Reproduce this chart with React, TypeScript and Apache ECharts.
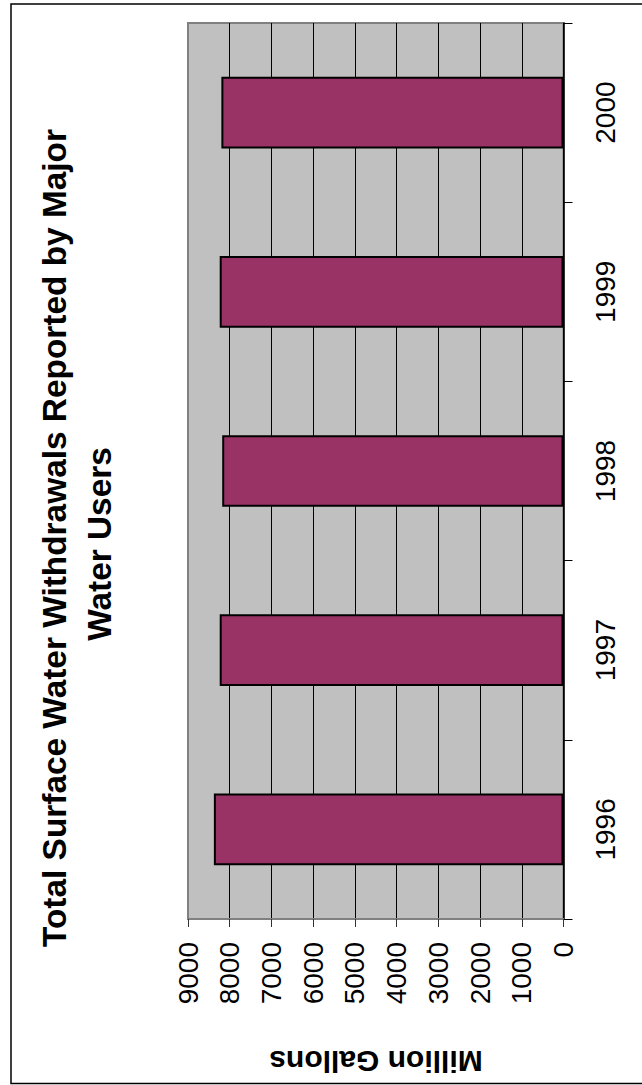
import React, { useEffect, useRef } from "react";
import * as echarts from "echarts";

const years = ["1996", "1997", "1998", "1999", "2000"];
const withdrawals = [8380, 8240, 8180, 8240, 8200];
const titleLine1 = "Total Surface Water Withdrawals Reported by Major";
const titleLine2 = "Water Users";
const valueAxisName = "Million Gallons";
const valueMin = 0;
const valueMax = 9000;
const valueStep = 1000;

const FONT = "'Liberation Sans', Arial, Helvetica, sans-serif";

export default function App() {
  const ref = useRef<HTMLDivElement>(null);

  useEffect(() => {
    document.body.style.margin = "0";
    if (!ref.current) return;
    const chart = echarts.init(ref.current, undefined, { renderer: "svg" });

    const splitColors: string[] = [];
    for (let v = valueMin; v <= valueMax; v += valueStep) {
      splitColors.push(v === valueMax ? "#808080" : "#000000");
    }

    chart.setOption({
      animation: false,
      backgroundColor: "#ffffff",
      grid: {
        left: 188,
        right: 642 - 563.5,
        top: 23,
        bottom: 1085 - 919,
        containLabel: false,
        show: true,
        backgroundColor: "#c0c0c0",
        borderColor: "#808080",
        borderWidth: 2,
      },
      xAxis: {
        type: "value",
        min: valueMin,
        max: valueMax,
        interval: valueStep,
        inverse: true,
        position: "bottom",
        axisLine: { show: true, lineStyle: { color: "#808080", width: 2 } },
        axisTick: { show: true, length: 8, lineStyle: { color: "#333333", width: 1 } },
        axisLabel: {
          rotate: 90,
          margin: 23,
          fontSize: 28,
          fontFamily: FONT,
          color: "#000000",
          formatter: (v: number) => String(v),
        },
        splitLine: { show: true, lineStyle: { color: splitColors, width: 1 } },
      },
      yAxis: {
        type: "category",
        data: years,
        position: "right",
        axisLine: { show: true, lineStyle: { color: "#000000", width: 1.5 } },
        axisTick: { show: true, length: 9, lineStyle: { color: "#000000", width: 1 } },
        axisLabel: {
          rotate: 90,
          margin: 28,
          fontSize: 28,
          fontFamily: FONT,
          color: "#000000",
        },
        splitLine: { show: false },
      },
      series: [
        {
          type: "bar",
          data: withdrawals,
          barCategoryGap: "60%",
          itemStyle: {
            color: "#993366",
            borderColor: "#000000",
            borderWidth: 2,
          },
        },
      ],
      graphic: [
        {
          type: "rect",
          shape: { x: 11, y: 4, width: 700, height: 1079.5 },
          style: { fill: "none", stroke: "#000000", lineWidth: 1.5 },
          silent: true,
        },
        {
          type: "text",
          x: 54,
          y: 538,
          rotation: Math.PI / 2,
          style: {
            text: titleLine1,
            fontSize: 33.4,
            fontWeight: "bold",
            fontFamily: FONT,
            fill: "#000000",
            align: "center",
            verticalAlign: "middle",
            textAlign: "center",
            textVerticalAlign: "middle",
          },
        },
        {
          type: "text",
          x: 99,
          y: 544,
          rotation: Math.PI / 2,
          style: {
            text: titleLine2,
            fontSize: 33.4,
            fontWeight: "bold",
            fontFamily: FONT,
            fill: "#000000",
            align: "center",
            verticalAlign: "middle",
            textAlign: "center",
            textVerticalAlign: "middle",
          },
        },
        {
          type: "text",
          x: 376,
          y: 1061,
          rotation: Math.PI,
          style: {
            text: valueAxisName,
            fontSize: 30,
            fontWeight: "bold",
            fontFamily: FONT,
            fill: "#000000",
            align: "center",
            verticalAlign: "middle",
            textAlign: "center",
            textVerticalAlign: "middle",
          },
        },
      ],
    });

    return () => {
      chart.dispose();
    };
  }, []);

  return <div ref={ref} style={{ width: 642, height: 1085 }} />;
}
